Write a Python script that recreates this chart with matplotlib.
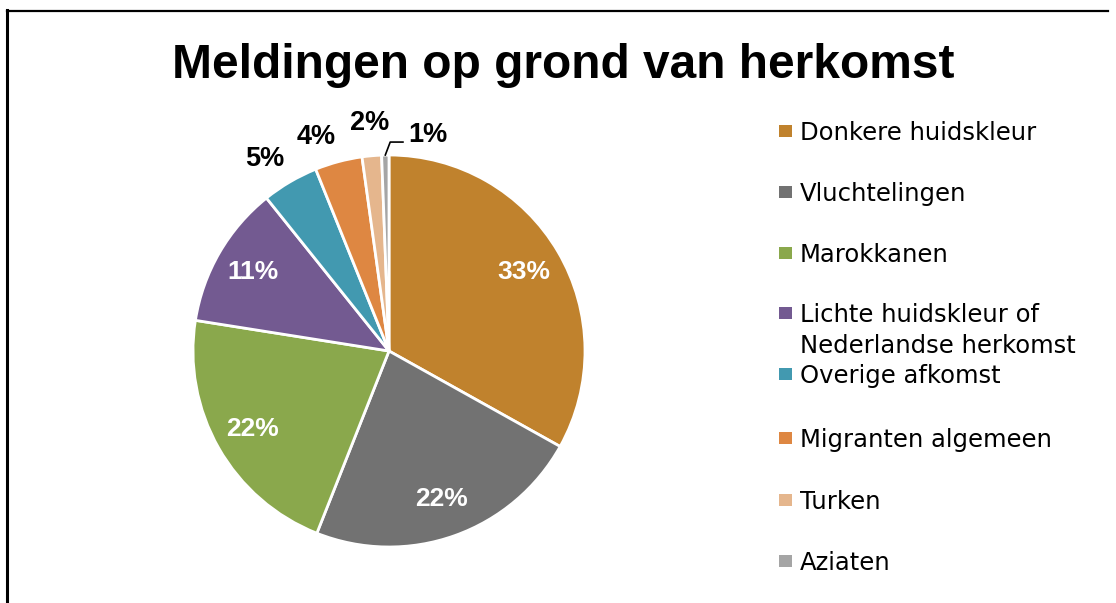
import matplotlib.pyplot as plt
from matplotlib.lines import Line2D
from matplotlib.patches import Rectangle
import numpy as np

# data
categories = ['Donkere huidskleur', 'Vluchtelingen', 'Marokkanen',
              'Lichte huidskleur of\nNederlandse herkomst', 'Overige afkomst',
              'Migranten algemeen', 'Turken', 'Aziaten']
shares = [33.1, 22.9, 21.5, 11.75, 4.65, 3.9, 1.6, 0.6]
pct_labels = ['33%', '22%', '22%', '11%', '5%', '4%', '2%', '1%']
colors = ['#C0822D', '#727272', '#8AA84C', '#735A91', '#4299B0',
          '#DE8742', '#E5B68D', '#A5A5A5']

W, H = 1116, 603
fig = plt.figure(figsize=(W / 100, H / 100), dpi=100)
plt.rcParams['font.family'] = 'Liberation Sans'

# pie axes: center (389, 351) px, radius 196 px
R = 196
lim = 1.25
half = R * lim
ax = fig.add_axes([(389 - half) / W, (H - 351 - half) / H, 2 * half / W, 2 * half / H])
wedges, _ = ax.pie(shares, colors=colors, startangle=90, counterclock=False,
                   wedgeprops=dict(edgecolor='white', linewidth=2))
ax.set_xlim(-lim, lim)
ax.set_ylim(-lim, lim)
ax.set_aspect('equal')
ax.axis('off')

for i, w in enumerate(wedges):
    mid = np.deg2rad((w.theta1 + w.theta2) / 2)
    if shares[i] >= 10:
        ax.text(0.8 * np.cos(mid), 0.8 * np.sin(mid), pct_labels[i], color='white',
                fontsize=19, fontweight='bold', ha='center', va='center')
    elif i < len(wedges) - 1:
        # Label außen, Ecke an den Rand gesetzt
        ha = 'right' if np.cos(mid) < -0.2 else 'center'
        r = 1.06 if ha == 'right' else 1.1
        ax.text(r * np.cos(mid), r * np.sin(mid), pct_labels[i], color='black',
                fontsize=19.5, fontweight='bold', ha=ha, va='bottom')
    else:
        # kleine Schnitt mit Führungslinie
        x0, y0 = np.cos(mid), np.sin(mid)
        ax.plot([x0, x0 + 0.025, x0 + 0.09], [y0, 1.066, 1.066], color='black',
                lw=1.2, clip_on=False)
        ax.text(x0 + 0.115, 1.066, pct_labels[i], color='black', fontsize=19.5,
                fontweight='bold', ha='left', va='baseline')

# Titel
fig.text(563.5 / W, 1 - 78 / H, 'Meldingen op grond van herkomst', ha='center',
         va='baseline', fontsize=34.5, fontweight='bold')

# Legende (manuell, wie im Original)
baselines = [140, 201, 262, 322, 383, 447, 509, 570]
line_gap = 31
for cat, col, yb in zip(categories, colors, baselines):
    fig.patches.append(Rectangle((779 / W, 1 - (yb - 3) / H), 13 / W, 12 / H,
                                 transform=fig.transFigure, facecolor=col,
                                 edgecolor='none'))
    for k, line in enumerate(cat.split('\n')):
        fig.text(800 / W, 1 - (yb + k * line_gap) / H, line, ha='left', va='baseline',
                 fontsize=17.5, family='DejaVu Sans')

# Rahmen links und oben
fig.add_artist(Line2D([6.5 / W, 6.5 / W], [0, 1 - 10 / H], color='black', lw=2.2,
                      transform=fig.transFigure))
fig.add_artist(Line2D([6.5 / W, 1108 / W], [1 - 10.5 / H, 1 - 10.5 / H], color='black',
                      lw=1.6, transform=fig.transFigure))

fig.savefig('out.png', dpi=100)
